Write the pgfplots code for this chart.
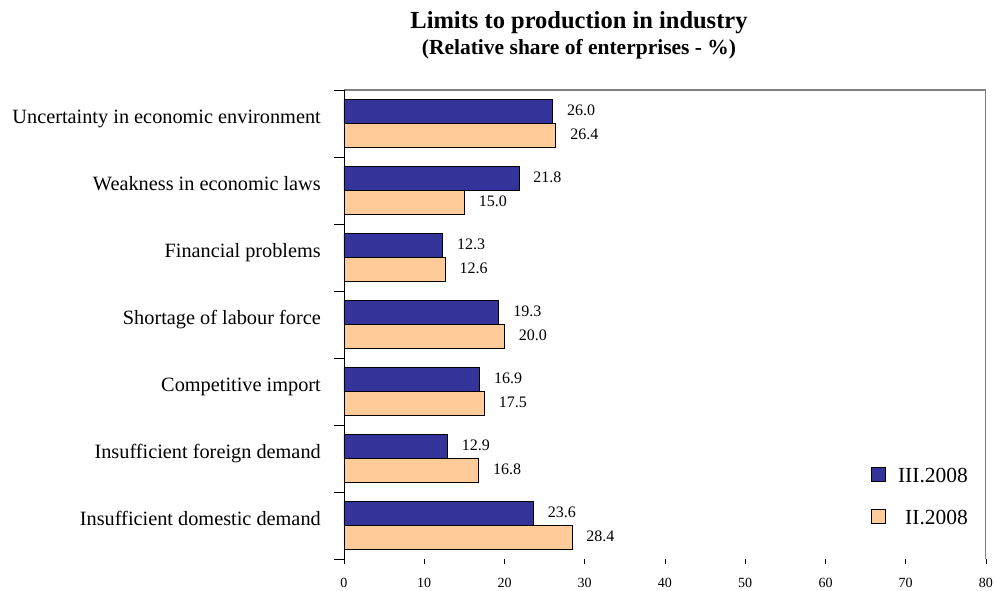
\documentclass[border=0pt]{standalone}
\usepackage{fontspec}
\setmainfont{Liberation Serif}
\usepackage{pgfplots}
\pgfplotsset{compat=1.18}
\definecolor{cblue}{RGB}{51,51,153}
\definecolor{cpeach}{RGB}{255,204,153}
\begin{document}
\begin{tikzpicture}[x=1pt,y=1pt]
\path[use as bounding box] (0,0) rectangle (996,591);
\node[anchor=base, inner sep=0pt, font=\fontsize{24.5}{29}\selectfont\bfseries] at (579,562) {Limits to production in industry};
\node[anchor=base, inner sep=0pt, font=\fontsize{21.5}{26}\selectfont\bfseries] at (579,536) {(Relative share of enterprises - \%)};
\begin{axis}[
  at={(344pt,32pt)}, anchor=south west,
  scale only axis, width=642pt, height=469pt,
  xbar, bar width=24pt,
  xmin=0, xmax=80, ymin=-0.5, ymax=6.5,
  xtick={0,10,...,80},
  ytick={0,...,6},
  yticklabels={Insufficient domestic demand, Insufficient foreign demand, Competitive import, Shortage of labour force, Financial problems, Weakness in economic laws, Uncertainty in economic environment},
  minor ytick={-0.5,0.5,...,6.5},
  tick align=outside,
  xtick pos=left, ytick pos=left,
  major tick length=5pt, minor tick length=10pt,
  major y tick style={draw=none},
  minor y tick style={black, line width=0.8pt},
  major x tick style={black, line width=0.8pt},
  axis line style={draw=none},
  /pgf/number format/assume math mode=true,
  xticklabel style={font=\fontsize{14}{16}\selectfont, inner sep=0pt, anchor=north, yshift=-14pt},
  yticklabel style={font=\fontsize{20.3}{24}\selectfont, inner sep=0pt, anchor=base east, xshift=-18pt},
  point meta=x,
  nodes near coords={\pgfmathprintnumber[fixed,fixed zerofill,precision=1]{\pgfplotspointmeta}},
  nodes near coords style={font=\fontsize{16}{19}\selectfont, anchor=west, inner sep=0pt, xshift=14pt, yshift=1.5pt, text=black},
  legend style={draw=none, fill=none, at={(0.821,0.132)}, anchor=west, inner sep=0pt, row sep=22pt, column sep=10pt, font=\fontsize{21.5}{26}\selectfont},
  legend cell align=right,
  legend image code/.code={\draw[#1, draw=black, line width=0.8pt] (0pt,-5.7pt) rectangle (14pt,8.3pt);},
]
\addplot[fill=cblue, draw=black, line width=0.8pt, bar shift=12pt] coordinates {
(23.6,0) (12.9,1) (16.9,2) (19.3,3) (12.3,4) (21.8,5) (26.0,6)};
\addplot[fill=cpeach, draw=black, line width=0.8pt, bar shift=-12pt] coordinates {
(28.4,0) (16.8,1) (17.5,2) (20.0,3) (12.6,4) (15.0,5) (26.4,6)};
\legend{III.2008, II.2008}
\draw[gray, line width=1.2pt] (rel axis cs:0,1) -- (rel axis cs:1,1) -- (rel axis cs:1,0);
\draw[black, line width=0.8pt] (rel axis cs:0,1) -- (rel axis cs:0,0) -- (rel axis cs:1,0);
\end{axis}
\end{tikzpicture}
\end{document}
